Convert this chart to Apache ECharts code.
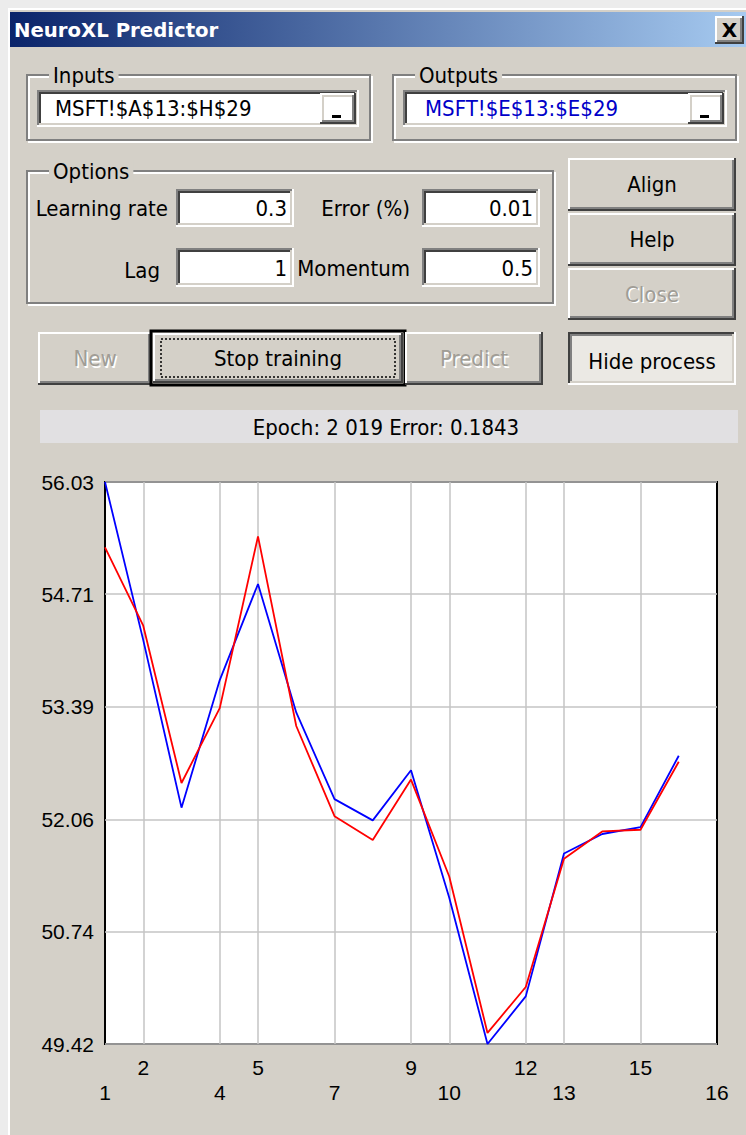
<!DOCTYPE html>
<html>
<head>
<meta charset="utf-8">
<title>NeuroXL Predictor</title>
<script src="https://cdn.jsdelivr.net/npm/echarts@6/dist/echarts.min.js"></script>
<style>
    html, body { margin: 0; padding: 0; background: #d4d0c8; }
    #main { width: 746px; height: 1135px; }
</style>
</head>
<body>
<div id="main"></div>
<script>
// x 轴标签（'' 表示该位置无刻度）
const xLabels = ['1', '2', '', '4', '5', '', '7', '', '9', '10', '', '12', '13', '', '15', '', '16']
// y 轴刻度
const yTicks = [49.42, 50.74, 52.06, 53.39, 54.71, 56.03]
// 实际值（蓝）与预测值（红）
const actual = [56.03, 54.17, 52.20, 53.70, 54.83, 53.32, 52.30, 52.05, 52.64, 51.14, 49.42, 49.98, 51.66, 51.89, 51.97, 52.81]
const predicted = [55.26, 54.34, 52.49, 53.37, 55.39, 53.16, 52.10, 51.82, 52.53, 51.39, 49.55, 50.09, 51.60, 51.92, 51.94, 52.74]

const BG = '#d4d0c8'
const UI_FONT = '"DejaVu Sans Condensed", "DejaVu Sans", sans-serif'
const AXIS_FONT = '"Liberation Sans", Arial, sans-serif'

let ui = []

function ln(x1, y1, x2, y2, color, w) {
    ui.push({type: 'line', silent: true, shape: {x1: x1, y1: y1, x2: x2, y2: y2}, style: {stroke: color, lineWidth: w || 2}})
}
function box(x, y, w, h, fill, stroke, lw, dash) {
    ui.push({type: 'rect', silent: true, shape: {x: x, y: y, width: w, height: h},
        style: {fill: fill || 'none', stroke: stroke || 'none', lineWidth: lw || 0, lineDash: dash || null}})
}
function txt(x, y, s, opt) {
    opt = opt || {}
    let st = {
        text: s,
        fill: opt.color || '#000',
        fontSize: opt.size || 22,
        fontFamily: opt.family || UI_FONT,
        fontWeight: opt.weight || 'normal',
        align: opt.align || 'left',
        verticalAlign: 'middle'
    }
    if (opt.bg) {
        st.backgroundColor = opt.bg
        st.padding = [0, 4]
    }
    ui.push({type: 'text', silent: true, x: x, y: y, style: st})
}
// 3D 边框：a 外左上, b 外右下, c 内左上, d 内右下
function edge(x, y, w, h, a, b, c, d) {
    ln(x, y + 1, x + w, y + 1, a)
    ln(x + 1, y, x + 1, y + h, a)
    ln(x, y + h - 1, x + w, y + h - 1, b)
    ln(x + w - 1, y, x + w - 1, y + h, b)
    ln(x + 2, y + 3, x + w - 3, y + 3, c)
    ln(x + 3, y + 2, x + 3, y + h - 3, c)
    ln(x + 2, y + h - 3, x + w - 2, y + h - 3, d)
    ln(x + w - 3, y + 2, x + w - 3, y + h - 2, d)
}
function label(x, y, s, disabled) {
    if (disabled) {
        txt(x + 1.5, y + 1.5, s, {color: '#fff', align: 'center'})
        txt(x, y, s, {color: '#a09d96', align: 'center'})
    } else {
        txt(x, y, s, {align: 'center'})
    }
}
function button(x, y, w, h, s, disabled) {
    edge(x, y, w, h, '#fff', '#404040', BG, '#808080')
    label(x + w / 2, y + h / 2, s, disabled)
}
function field(x, y, w, h) {
    box(x, y, w, h, '#fff')
    edge(x, y, w, h, '#808080', '#fff', '#404040', BG)
}
function group(x, y, w, h, s) {
    box(x + 2, y + 2, w, h, 'none', '#fff', 2)
    box(x, y, w, h, 'none', '#808080', 2)
    txt(x + 22, y, s, {bg: BG})
}

//窗口外框与标题栏
ln(0, 4, 746, 4, '#ececec', 8)
ln(4, 0, 4, 1135, '#ececec', 8)
ln(8, 9, 746, 9, '#fff', 2)
ln(9, 8, 9, 1135, '#fff', 2)
box(10, 12, 736, 35, {type: 'linear', x: 0, y: 0, x2: 1, y2: 0,
    colorStops: [{offset: 0, color: '#0a246a'}, {offset: 1, color: '#a6caf0'}]})
txt(14, 30, 'NeuroXL Predictor', {color: '#fff', weight: 'bold', size: 19.7, family: '"DejaVu Sans", sans-serif'})
box(715, 16, 29, 28, BG)
edge(715, 16, 29, 28, '#fff', '#404040', BG, '#808080')
txt(729.5, 30, 'X', {weight: 'bold', align: 'center', size: 20, family: '"DejaVu Sans", sans-serif'})

//输入输出
group(27, 75, 343, 65, 'Inputs')
field(37, 90, 322, 37)
txt(55, 108, 'MSFT!$A$13:$H$29')
button(320, 93, 36, 31, '')
box(332, 115, 9, 3, '#000')

group(393, 75, 343, 65, 'Outputs')
field(403, 90, 324, 37)
txt(425, 108, 'MSFT!$E$13:$E$29', {color: '#0000c8'})
button(688, 93, 36, 31, '')
box(700, 115, 9, 3, '#000')

//参数
group(27, 171, 526, 132, 'Options')
txt(168, 208, 'Learning rate', {align: 'right'})
field(176, 189, 118, 38)
txt(287, 208, '0.3', {align: 'right'})
txt(410, 208, 'Error (%)', {align: 'right'})
field(422, 189, 118, 38)
txt(533, 208, '0.01', {align: 'right'})
txt(160, 270, 'Lag', {align: 'right'})
field(176, 248, 118, 39)
txt(287, 268, '1', {align: 'right'})
txt(410, 268, 'Momentum', {align: 'right'})
field(422, 248, 118, 39)
txt(533, 268, '0.5', {align: 'right'})

//按钮
button(568, 158, 168, 53, 'Align')
button(568, 213, 168, 53, 'Help')
button(568, 268, 168, 52, 'Close', true)

button(38, 332, 114, 53, 'New', true)
box(151, 331, 254, 54, 'none', '#000', 3)
edge(153, 333, 250, 50, '#fff', '#404040', BG, '#808080')
box(161, 339, 234, 38, 'none', '#000', 1.5, [2, 2])
label(278, 358, 'Stop training')
button(405, 332, 138, 53, 'Predict', true)

box(568, 332, 168, 53, '#ebe9e4')
edge(568, 332, 168, 53, '#404040', '#fff', '#808080', BG)
label(652, 361, 'Hide process')

//状态栏
box(40, 410, 698, 33, '#e1e0e2')
txt(386, 427, 'Epoch: 2 019 Error: 0.1843', {align: 'center'})

// 有刻度的位置，用于上下两行交错显示
const shownIdx = []
xLabels.forEach((v, i) => { if (v !== '') shownIdx.push(i) })

let chart = echarts.init(document.getElementById('main'), null, {renderer: 'svg'})
const option = {
    animation: false,
    backgroundColor: BG,
    graphic: {elements: ui},
    grid: {
        left: 105,
        top: 482,
        width: 612,
        height: 562,
        show: true,
        backgroundColor: '#fff',
        borderColor: '#000',
        borderWidth: 2
    },
    xAxis: {
        type: 'category',
        data: xLabels,
        boundaryGap: false,
        axisLine: {show: false},
        axisTick: {show: false},
        axisLabel: {
            interval: (i, v) => v !== '',
            hideOverlap: false,
            margin: 11,
            fontSize: 21,
            lineHeight: 25,
            color: '#000',
            fontFamily: AXIS_FONT,
            formatter: (v, i) => shownIdx.indexOf(i) % 2 === 0 ? '\n' + v : v
        },
        splitLine: {
            show: true,
            interval: (i, v) => v !== '' && i > 0 && i < xLabels.length - 1,
            lineStyle: {color: '#c4c4c4', width: 1.5}
        }
    },
    yAxis: {
        type: 'value',
        min: yTicks[0],
        max: yTicks[yTicks.length - 1],
        axisLine: {show: false},
        axisTick: {show: false, customValues: yTicks},
        axisLabel: {
            customValues: yTicks,
            formatter: v => v.toFixed(2),
            margin: 11,
            fontSize: 21,
            color: '#000',
            fontFamily: AXIS_FONT
        },
        splitLine: {
            show: true,
            lineStyle: {color: '#c4c4c4', width: 1.5}
        }
    },
    series: [
        {
            name: 'actual',
            type: 'line',
            data: actual,
            symbol: 'none',
            lineStyle: {color: '#0000ff', width: 1.8}
        },
        {
            name: 'predicted',
            type: 'line',
            data: predicted,
            symbol: 'none',
            lineStyle: {color: '#ff0000', width: 1.8}
        }
    ]
}
chart.setOption(option)
</script>
</body>
</html>
